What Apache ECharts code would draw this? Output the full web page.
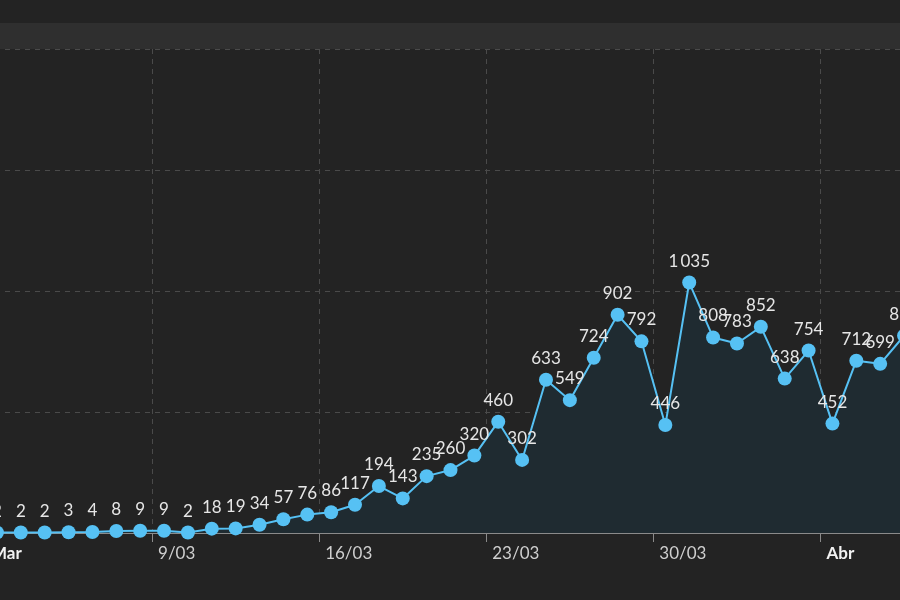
<!DOCTYPE html>
<html>
<head>
<meta charset="utf-8">
<script src="https://cdn.jsdelivr.net/npm/echarts@6/dist/echarts.min.js"></script>
<style>
html,body{margin:0;padding:0;background:#232323;overflow:hidden;width:900px;height:600px;position:relative;}
#c{position:absolute;left:-15px;top:0;width:931px;height:600px;}
</style>
</head>
<body>
<div id="c"></div>
<script>
// Daily dates (2 Mar – 9 Apr)
const days = ['2/03','3/03','4/03','5/03','6/03','7/03','8/03','9/03','10/03','11/03','12/03','13/03','14/03','15/03','16/03','17/03','18/03','19/03','20/03','21/03','22/03','23/03','24/03','25/03','26/03','27/03','28/03','29/03','30/03','31/03','1/04','2/04','3/04','4/04','5/04','6/04','7/04','8/04','9/04'];
const newCases = [2,2,2,3,4,8,9,9,2,18,19,34,57,76,86,117,194,143,235,260,320,460,302,633,549,724,902,792,446,1035,808,783,852,638,754,452,712,699,815];
// Weekly tick labels by category index
const tickLabels = {0:'Mar',7:'9/03',14:'16/03',21:'23/03',28:'30/03',35:'Abr'};
const monthLabels = ['Mar','Abr'];
const yTicks = [0,500,1000,1500,2000];

const chart = echarts.init(document.getElementById('c'));
const fmt = v => v >= 1000 ? Math.floor(v/1000) + '\u2009' + String(v%1000).padStart(3,'0') : String(v);
chart.setOption({
  backgroundColor:'#232323',
  animation:false,
  textStyle:{fontFamily:'Lato, "Open Sans", sans-serif'},
  graphic:[{type:'rect',shape:{x:0,y:23,width:931,height:26},style:{fill:'#2f2f2f'},z:-1}],
  grid:{left:0,right:0,top:49,bottom:67,containLabel:false},
  xAxis:{
    type:'category',
    data:days,
    boundaryGap:true,
    axisLine:{show:true,lineStyle:{color:'#8a8a8a',width:2}},
    axisTick:{show:true,interval:(i)=>i%7===0,length:9,lineStyle:{color:'#8a8a8a',width:1}},
    splitLine:{show:true,interval:(i)=>i%7===0,lineStyle:{color:'#4a4a4a',type:[5,5],width:1}},
    axisLabel:{
      interval:(i)=>i%7===0,
      align:'left',
      margin:12,
      padding:[0,0,0,-6],
      fontSize:17,
      formatter:(v,i)=>{const t=tickLabels[i]||''; return monthLabels.includes(t)?'{b|'+t+'}':'{n|'+t+'}';},
      rich:{
        b:{color:'#f2f2f2',fontWeight:'bold',fontSize:17,fontFamily:'Lato, sans-serif'},
        n:{color:'#cfcfcf',fontSize:17,fontFamily:'Lato, sans-serif'}
      }
    }
  },
  yAxis:{
    type:'value',min:yTicks[0],max:yTicks[yTicks.length-1],interval:500,
    axisLabel:{show:false},axisLine:{show:false},axisTick:{show:false},
    splitLine:{show:true,lineStyle:{color:'#4a4a4a',type:[5,5],width:1}}
  },
  series:[{
    type:'line',
    data:newCases,
    symbol:'circle',
    symbolSize:14,
    itemStyle:{color:'#56c1f4'},
    lineStyle:{color:'#56c1f4',width:2},
    areaStyle:{color:'#1f2b31',opacity:1},
    label:{show:true,position:'top',distance:6,color:'#e6e6e6',fontSize:17,formatter:p=>fmt(p.value)},
    z:3
  }]
});
</script>
</body>
</html>
